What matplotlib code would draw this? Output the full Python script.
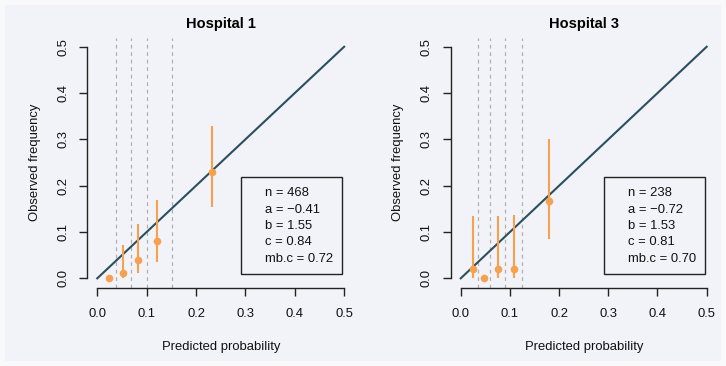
import matplotlib
matplotlib.use("Agg")
import matplotlib.pyplot as plt
from matplotlib.patches import Rectangle

plt.rcParams['font.family'] = ['Liberation Sans', 'DejaVu Sans']

# Hospital 1 calibration groups
h1_pred = [0.024, 0.053, 0.083, 0.120, 0.232]
h1_obs = [0.000, 0.011, 0.040, 0.081, 0.229]
h1_lo = [0.000, 0.000, 0.011, 0.036, 0.153]
h1_hi = [0.000, 0.072, 0.117, 0.169, 0.328]
h1_cuts = [0.038, 0.068, 0.100, 0.151]
h1_stats = ["n = 468", "a = \u22120.41", "b = 1.55", "c = 0.84", "mb.c = 0.72"]

# Hospital 3 calibration groups
h3_pred = [0.024, 0.048, 0.076, 0.108, 0.180]
h3_obs = [0.021, 0.000, 0.021, 0.021, 0.166]
h3_lo = [0.000, 0.000, 0.000, 0.000, 0.084]
h3_hi = [0.135, 0.000, 0.135, 0.137, 0.300]
h3_cuts = [0.035, 0.060, 0.089, 0.125]
h3_stats = ["n = 238", "a = \u22120.72", "b = 1.53", "c = 0.81", "mb.c = 0.70"]

ticks = [0.0, 0.1, 0.2, 0.3, 0.4, 0.5]
tick_labels = ["0.0", "0.1", "0.2", "0.3", "0.4", "0.5"]

BG = "#f2f3f8"
ORANGE = "#f7a14f"
LINE = "#2b4f5e"
FS = 9.4

fig = plt.figure(figsize=(7.26, 3.66), dpi=100)
fig.patch.set_facecolor("#f9f9fb")
fig.add_artist(Rectangle((5 / 726, 5 / 366), 716 / 726, 356 / 366,
                         transform=fig.transFigure, facecolor=BG,
                         edgecolor="none", zorder=-5))

panels = [
    ("Hospital 1", h1_pred, h1_obs, h1_lo, h1_hi, h1_cuts, h1_stats,
     [87.4 / 726, 1 - 287.6 / 366, 266.6 / 726, 250.1 / 366]),
    ("Hospital 3", h3_pred, h3_obs, h3_lo, h3_hi, h3_cuts, h3_stats,
     [450.9 / 726, 1 - 287.6 / 366, 265.6 / 726, 250.1 / 366]),
]

for title, pred, obs, lo, hi, cuts, stats, rect in panels:
    ax = fig.add_axes(rect)
    ax.set_facecolor("none")
    ax.set_xlim(-0.02, 0.52)
    ax.set_ylim(-0.02, 0.52)

    for c in cuts:
        ax.axvline(c, color="#b0b0b0", lw=0.9, ls=(0, (3, 3)), zorder=1)

    ax.plot([0, 0.5], [0, 0.5], color=LINE, lw=1.5, zorder=2)

    for x, y, l, h in zip(pred, obs, lo, hi):
        if h > l:
            ax.plot([x, x], [l, h], color=ORANGE, lw=1.5, zorder=3,
                    solid_capstyle="butt")
    ax.plot(pred, obs, "o", color=ORANGE, ms=5.5, mec="none", zorder=4)

    # statistics box
    ax.add_patch(Rectangle((0.2915, 0.0086), 0.2045, 0.211,
                           facecolor="none", edgecolor="#222222", lw=1.0,
                           zorder=5))
    ys = [0.1836, 0.1475, 0.1136, 0.0778, 0.0424]
    for s, y in zip(stats, ys):
        ax.text(0.34, y, s, fontsize=FS, ha="left", va="center",
                color="#111111", zorder=6)

    for side in ["top", "right"]:
        ax.spines[side].set_visible(False)
    ax.spines["left"].set_bounds(0, 0.5)
    ax.spines["bottom"].set_bounds(0, 0.5)
    for side in ["left", "bottom"]:
        ax.spines[side].set_linewidth(1.0)
        ax.spines[side].set_color("#222222")

    ax.set_xticks(ticks)
    ax.set_xticklabels(tick_labels)
    ax.set_yticks(ticks)
    ax.set_yticklabels(tick_labels, rotation=90, va="center")
    ax.tick_params(axis="both", length=6, width=1.0, color="#222222",
                   labelsize=FS, labelcolor="#111111")
    ax.tick_params(axis="x", pad=9)
    ax.tick_params(axis="y", pad=7)

    ax.set_xlabel("Predicted probability", fontsize=FS, color="#111111",
                  labelpad=15)
    ax.set_ylabel("Observed frequency", fontsize=FS, color="#111111",
                  labelpad=12)
    ax.set_title(title, fontsize=10.5, fontweight="bold", pad=7)

fig.savefig("out.png", dpi=100, facecolor=fig.get_facecolor())
